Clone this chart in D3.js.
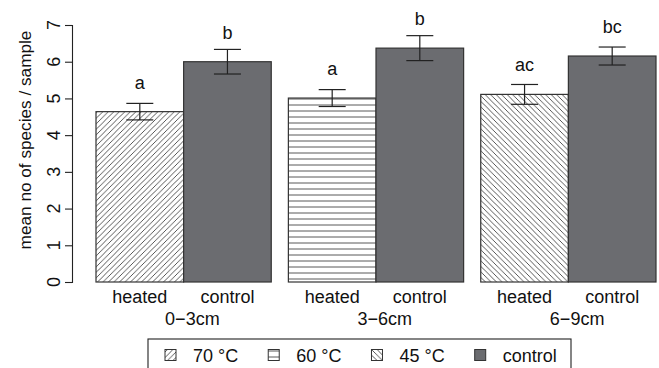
<!DOCTYPE html>
<html><head><meta charset="utf-8">
<script src="https://cdn.jsdelivr.net/npm/d3@7"></script>
<style>body{margin:0;background:#fff}text{font-family:"Liberation Sans",Arial,sans-serif;fill:#111}</style>
</head><body>
<svg id="c" width="659" height="368"></svg>
<script>
const groups = ["0−3cm", "3−6cm", "6−9cm"];
const treatments = ["heated", "control"];
const heatedMean = [4.64, 5.01, 5.11];
const heatedSE = [0.225, 0.23, 0.27];
const controlMean = [6.00, 6.37, 6.155];
const controlSE = [0.335, 0.34, 0.245];
const heatedLetters = ["a", "a", "ac"];
const controlLetters = ["b", "b", "bc"];
const legendLabels = ["70 °C", "60 °C", "45 °C", "control"];
const yTicks = [0, 1, 2, 3, 4, 5, 6, 7];
const yLabel = "mean no of species / sample";

const svg = d3.select("#c");
const FS = 18;
const y = d3.scaleLinear().domain([0, 7]).range([282, 25]);
const xg = d3.scaleBand().domain(groups).range([96, 656]).paddingInner(0.089).paddingOuter(0);
const xt = d3.scaleBand().domain(treatments).range([0, xg.bandwidth()]).padding(0);

// patterns
const defs = svg.append("defs");
const hatchIds = ["h70", "h60", "h45"];
function pat(id, p, draw) {
  const g = defs.append("pattern").attr("id", id).attr("patternUnits", "userSpaceOnUse")
    .attr("width", p).attr("height", p);
  g.append("rect").attr("width", p).attr("height", p).attr("fill", "#fff");
  draw(g, p);
}
function ln(g, x1, y1, x2, y2) {
  g.append("line").attr("x1", x1).attr("y1", y1).attr("x2", x2).attr("y2", y2)
    .attr("stroke", "#444").attr("stroke-width", 0.9);
}
pat("h70", 5.5, (g, p) => { ln(g, 0, p, p, 0); ln(g, -1, 1, 1, -1); ln(g, p - 1, p + 1, p + 1, p - 1); });
pat("h60", 6, (g, p) => { ln(g, 0, p / 2, p, p / 2); });
pat("h45", 5.5, (g, p) => { ln(g, 0, 0, p, p); ln(g, -1, p - 1, 1, p + 1); ln(g, p - 1, -1, p + 1, 1); });
const ctrlFill = "#6b6c70";

const rows = groups.map((g, i) => [
  {g, t: "heated", m: heatedMean[i], se: heatedSE[i], lab: heatedLetters[i], fill: `url(#${hatchIds[i]})`},
  {g, t: "control", m: controlMean[i], se: controlSE[i], lab: controlLetters[i], fill: ctrlFill}
]).flat();

svg.append("g").selectAll("rect").data(rows).join("rect")
  .attr("x", d => xg(d.g) + xt(d.t)).attr("width", xt.bandwidth())
  .attr("y", d => y(d.m)).attr("height", d => y(0) - y(d.m))
  .attr("fill", d => d.fill).attr("stroke", "#333").attr("stroke-width", 1.2);

// error bars
const cx = d => xg(d.g) + xt(d.t) + xt.bandwidth() / 2;
const eb = svg.append("g").attr("stroke", "#222").attr("stroke-width", 1.2);
rows.forEach(d => {
  const c = cx(d), t = y(d.m + d.se), b = y(d.m - d.se);
  eb.append("line").attr("x1", c).attr("x2", c).attr("y1", t).attr("y2", b);
  eb.append("line").attr("x1", c - 13.5).attr("x2", c + 13.5).attr("y1", t).attr("y2", t);
  eb.append("line").attr("x1", c - 13.5).attr("x2", c + 13.5).attr("y1", b).attr("y2", b);
});
svg.append("g").selectAll("text").data(rows).join("text")
  .attr("x", cx).attr("y", d => y(d.m) - 23).attr("text-anchor", "middle")
  .attr("font-size", FS).text(d => d.lab);

// y axis
const ya = svg.append("g").attr("transform", "translate(72,0)")
  .call(d3.axisLeft(y).tickValues(yTicks).tickSize(7).tickFormat(""));
ya.select(".domain").attr("stroke", "#222").attr("stroke-width", 1.1);
ya.selectAll(".tick line").attr("stroke", "#222").attr("stroke-width", 1.1);
ya.selectAll(".tick text").remove();
svg.append("g").selectAll("text").data(yTicks).join("text")
  .attr("transform", d => `translate(59.5,${y(d)}) rotate(-90)`)
  .attr("text-anchor", "middle").attr("font-size", FS).text(d => d);
svg.append("text").attr("transform", "translate(31,140) rotate(-90)").attr("text-anchor", "middle")
  .attr("font-size", 17.2).text(yLabel);

// x labels
svg.append("g").selectAll("text").data(rows).join("text")
  .attr("x", cx).attr("y", 302.5).attr("text-anchor", "middle").attr("font-size", FS).text(d => d.t);
svg.append("g").selectAll("text").data(groups).join("text")
  .attr("x", g => xg(g) + xt.bandwidth() * 1.1).attr("y", 325).attr("text-anchor", "middle")
  .attr("font-size", FS).text(g => g);

// legend
const lg = svg.append("g");
const legendFills = hatchIds.map(h => `url(#${h})`).concat([ctrlFill]);
let lx = 165;
const ly = 349.5;
legendLabels.forEach((lab, i) => {
  lg.append("rect").attr("x", lx).attr("y", ly).attr("width", 11).attr("height", 11)
    .attr("fill", legendFills[i]).attr("stroke", "#333").attr("stroke-width", 1);
  const t = lg.append("text").attr("x", lx + 28).attr("y", 361.5).attr("font-size", FS).text(lab);
  lx += 28 + t.node().getComputedTextLength() + 30;
});
lg.insert("rect", ":first-child").attr("x", 148).attr("y", 339).attr("width", 571 - 148).attr("height", 60)
  .attr("fill", "none").attr("stroke", "#222").attr("stroke-width", 1.1);
</script>
</body></html>
